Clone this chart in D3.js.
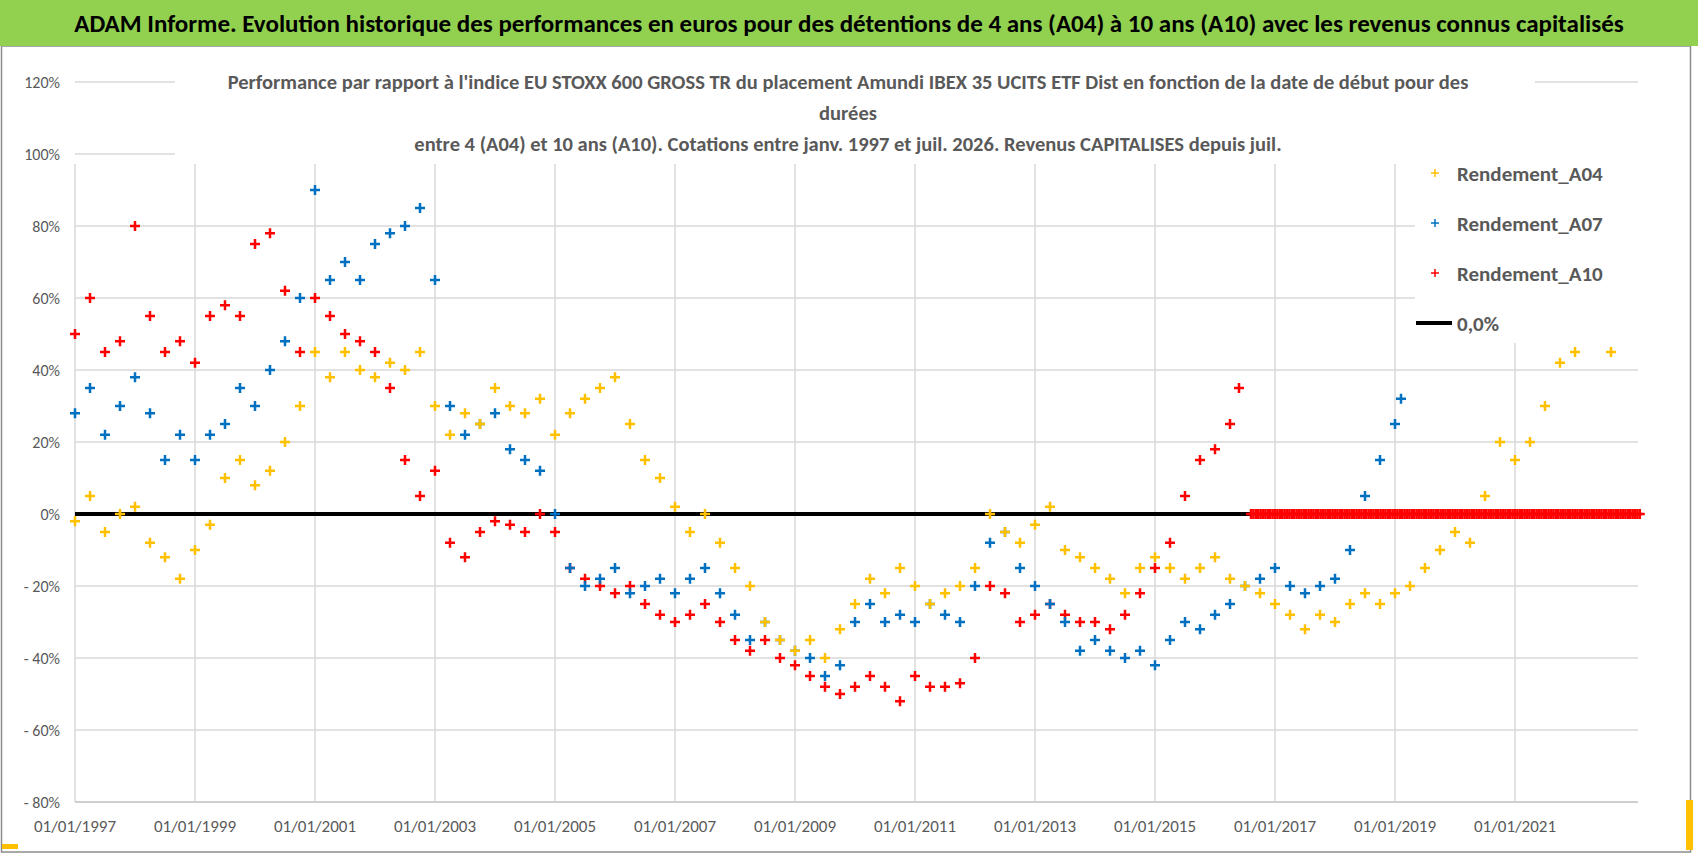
<!DOCTYPE html>
<html><head><meta charset="utf-8">
<script src="https://cdn.jsdelivr.net/npm/d3@7"></script>
<style>
body{margin:0;background:#fff;font-family:Calibri,"Liberation Sans Narrow","Open Sans",sans-serif;}
</style></head><body>
<svg id="chart" width="1698" height="856"></svg>
<script>
// [year, performance %]
const a04 = [[1997,-2],[1997.25,5],[1997.5,-5],[1997.75,0],[1998,2],[1998.25,-8],[1998.5,-12],[1998.75,-18],[1999,-10],[1999.25,-3],[1999.5,10],[1999.75,15],[2000,8],[2000.25,12],[2000.5,20],[2000.75,30],[2001,45],[2001.25,38],[2001.5,45],[2001.75,40],[2002,38],[2002.25,42],[2002.5,40],[2002.75,45],[2003,30],[2003.25,22],[2003.5,28],[2003.75,25],[2004,35],[2004.25,30],[2004.5,28],[2004.75,32],[2005,22],[2005.25,28],[2005.5,32],[2005.75,35],[2006,38],[2006.25,25],[2006.5,15],[2006.75,10],[2007,2],[2007.25,-5],[2007.5,0],[2007.75,-8],[2008,-15],[2008.25,-20],[2008.5,-30],[2008.75,-35],[2009,-38],[2009.25,-35],[2009.5,-40],[2009.75,-32],[2010,-25],[2010.25,-18],[2010.5,-22],[2010.75,-15],[2011,-20],[2011.25,-25],[2011.5,-22],[2011.75,-20],[2012,-15],[2012.25,0],[2012.5,-5],[2012.75,-8],[2013,-3],[2013.25,2],[2013.5,-10],[2013.75,-12],[2014,-15],[2014.25,-18],[2014.5,-22],[2014.75,-15],[2015,-12],[2015.25,-15],[2015.5,-18],[2015.75,-15],[2016,-12],[2016.25,-18],[2016.5,-20],[2016.75,-22],[2017,-25],[2017.25,-28],[2017.5,-32],[2017.75,-28],[2018,-30],[2018.25,-25],[2018.5,-22],[2018.75,-25],[2019,-22],[2019.25,-20],[2019.5,-15],[2019.75,-10],[2020,-5],[2020.25,-8],[2020.5,5],[2020.75,20],[2021,15],[2021.25,20],[2021.5,30],[2021.75,42],[2022,45],[2022.6,45]];
const a07 = [[1997,28],[1997.25,35],[1997.5,22],[1997.75,30],[1998,38],[1998.25,28],[1998.5,15],[1998.75,22],[1999,15],[1999.25,22],[1999.5,25],[1999.75,35],[2000,30],[2000.25,40],[2000.5,48],[2000.75,60],[2001,90],[2001.25,65],[2001.5,70],[2001.75,65],[2002,75],[2002.25,78],[2002.5,80],[2002.75,85],[2003,65],[2003.25,30],[2003.5,22],[2003.75,25],[2004,28],[2004.25,18],[2004.5,15],[2004.75,12],[2005,0],[2005.25,-15],[2005.5,-20],[2005.75,-18],[2006,-15],[2006.25,-22],[2006.5,-20],[2006.75,-18],[2007,-22],[2007.25,-18],[2007.5,-15],[2007.75,-22],[2008,-28],[2008.25,-35],[2008.5,-30],[2008.75,-35],[2009,-38],[2009.25,-40],[2009.5,-45],[2009.75,-42],[2010,-30],[2010.25,-25],[2010.5,-30],[2010.75,-28],[2011,-30],[2011.25,-25],[2011.5,-28],[2011.75,-30],[2012,-20],[2012.25,-8],[2012.5,-5],[2012.75,-15],[2013,-20],[2013.25,-25],[2013.5,-30],[2013.75,-38],[2014,-35],[2014.25,-38],[2014.5,-40],[2014.75,-38],[2015,-42],[2015.25,-35],[2015.5,-30],[2015.75,-32],[2016,-28],[2016.25,-25],[2016.5,-20],[2016.75,-18],[2017,-15],[2017.25,-20],[2017.5,-22],[2017.75,-20],[2018,-18],[2018.25,-10],[2018.5,5],[2018.75,15],[2019,25],[2019.1,32]];
const a10 = [[1997,50],[1997.25,60],[1997.5,45],[1997.75,48],[1998,80],[1998.25,55],[1998.5,45],[1998.75,48],[1999,42],[1999.25,55],[1999.5,58],[1999.75,55],[2000,75],[2000.25,78],[2000.5,62],[2000.75,45],[2001,60],[2001.25,55],[2001.5,50],[2001.75,48],[2002,45],[2002.25,35],[2002.5,15],[2002.75,5],[2003,12],[2003.25,-8],[2003.5,-12],[2003.75,-5],[2004,-2],[2004.25,-3],[2004.5,-5],[2004.75,0],[2005,-5],[2005.25,-15],[2005.5,-18],[2005.75,-20],[2006,-22],[2006.25,-20],[2006.5,-25],[2006.75,-28],[2007,-30],[2007.25,-28],[2007.5,-25],[2007.75,-30],[2008,-35],[2008.25,-38],[2008.5,-35],[2008.75,-40],[2009,-42],[2009.25,-45],[2009.5,-48],[2009.75,-50],[2010,-48],[2010.25,-45],[2010.5,-48],[2010.75,-52],[2011,-45],[2011.25,-48],[2011.5,-48],[2011.75,-47],[2012,-40],[2012.25,-20],[2012.5,-22],[2012.75,-30],[2013,-28],[2013.25,-25],[2013.5,-28],[2013.75,-30],[2014,-30],[2014.25,-32],[2014.5,-28],[2014.75,-22],[2015,-15],[2015.25,-8],[2015.5,5],[2015.75,15],[2016,18],[2016.25,25],[2016.4,35]];
// A10 reported as 0 after mid-2016 (no 10-year window yet)
const a10ZeroDates = d3.range(2016.6, 2023.1, 0.04);
const yTicks = [120, 100, 80, 60, 40, 20, 0, -20, -40, -60, -80];
const xTicks = [1997, 1999, 2001, 2003, 2005, 2007, 2009, 2011, 2013, 2015, 2017, 2019, 2021];
const series = [
  {name: 'Rendement_A10', color: '#ff0000', data: a10.concat(a10ZeroDates.map(d => [d, 0]))},
  {name: 'Rendement_A07', color: '#0070c0', data: a07},
  {name: 'Rendement_A04', color: '#ffc000', data: a04},
];

const svg = d3.select('#chart');
const x = d3.scaleLinear().domain([1997, 2023.05]).range([75, 1638]);
const y = d3.scaleLinear().domain([-80, 120]).range([802, 82]);

// frame and banner
svg.append('rect').attr('x', 1.5).attr('y', 46).attr('width', 1689).attr('height', 806)
  .attr('fill', '#fff').attr('stroke', '#8c8c8c').attr('stroke-width', 1.5);
svg.append('rect').attr('x', 0).attr('y', 0).attr('width', 1698).attr('height', 46).attr('fill', '#92d050');
svg.append('text').attr('x', 849).attr('y', 32).attr('text-anchor', 'middle')
  .attr('font-size', 25).attr('font-weight', 'bold').attr('fill', '#000')
  .text('ADAM Informe. Evolution historique des performances en euros pour des détentions de 4 ans (A04) à 10 ans (A10) avec les revenus connus capitalisés');
svg.append('rect').attr('x', 1686).attr('y', 800).attr('width', 7).attr('height', 50).attr('fill', '#ffc000');
svg.append('rect').attr('x', 2).attr('y', 844).attr('width', 16).attr('height', 5).attr('fill', '#ffc000');

// grid
svg.append('g').selectAll('line').data(yTicks).join('line')
  .attr('x1', 75).attr('x2', 1638).attr('y1', d => y(d)).attr('y2', d => y(d))
  .attr('stroke', d => d === -80 ? '#bfbfbf' : '#d9d9d9').attr('stroke-width', 1.5);
svg.append('g').selectAll('line').data(xTicks).join('line')
  .attr('x1', d => x(d)).attr('x2', d => x(d)).attr('y1', y(100) + 10).attr('y2', y(-80))
  .attr('stroke', '#d9d9d9').attr('stroke-width', 1.5);

// axis labels
svg.append('g').selectAll('text').data(yTicks).join('text')
  .attr('x', 60).attr('y', d => y(d) + 6).attr('text-anchor', 'end')
  .attr('font-size', 16).attr('fill', '#595959')
  .text(d => (d < 0 ? '- ' + (-d) : d) + '%');
svg.append('g').selectAll('text').data(xTicks).join('text')
  .attr('x', d => x(d)).attr('y', y(-80) + 30).attr('text-anchor', 'middle')
  .attr('font-size', 17).attr('fill', '#595959')
  .text(d => '01/01/' + d);

// subtitle
const sub = ["Performance par rapport à l'indice EU STOXX 600 GROSS TR  du placement Amundi IBEX 35 UCITS ETF Dist en fonction de la date de début pour des",
  'durées',
  'entre 4 (A04) et 10 ans (A10). Cotations entre janv. 1997 et juil. 2026. Revenus CAPITALISES depuis juil.'];
svg.append('rect').attr('x', 175).attr('y', 62).attr('width', 1360).attr('height', 96).attr('fill', '#fff');
svg.append('g').selectAll('text').data(sub).join('text')
  .attr('x', 848).attr('y', (d, i) => 89 + i * 31).attr('text-anchor', 'middle')
  .attr('font-size', 20.5).attr('font-weight', 'bold').attr('fill', '#595959')
  .text(d => d);

// zero line
svg.append('line').attr('x1', x(1997)).attr('x2', x(2016.6)).attr('y1', y(0)).attr('y2', y(0))
  .attr('stroke', '#000').attr('stroke-width', 4);

// markers
series.forEach(s => {
  svg.append('g').selectAll('path').data(s.data).join('path')
    .attr('transform', d => `translate(${x(d[0])},${y(d[1])})`)
    .attr('d', 'M-5,0H5M0,-5V5')
    .attr('stroke', s.color).attr('stroke-width', 2.5).attr('fill', 'none');
});

// legend
const leg = svg.append('g');
leg.append('rect').attr('x', 1415).attr('y', 148).attr('width', 225).attr('height', 195).attr('fill', '#fff');
const legItems = [
  {name: 'Rendement_A04', color: '#ffc000'},
  {name: 'Rendement_A07', color: '#0070c0'},
  {name: 'Rendement_A10', color: '#ff0000'},
  {name: '0,0%', color: '#000', line: true},
];
legItems.forEach((d, i) => {
  const ly = 173 + i * 50;
  if (d.line) {
    leg.append('line').attr('x1', 1416).attr('x2', 1452).attr('y1', ly).attr('y2', ly)
      .attr('stroke', '#000').attr('stroke-width', 4);
  } else {
    leg.append('path').attr('transform', `translate(1435,${ly})`).attr('d', 'M-4,0H4M0,-4V4')
      .attr('stroke', d.color).attr('stroke-width', 1.5);
  }
  leg.append('text').attr('x', 1457).attr('y', ly + 8).attr('font-size', 21)
    .attr('font-weight', 'bold').attr('fill', '#595959').text(d.name);
});
</script>
</body></html>
